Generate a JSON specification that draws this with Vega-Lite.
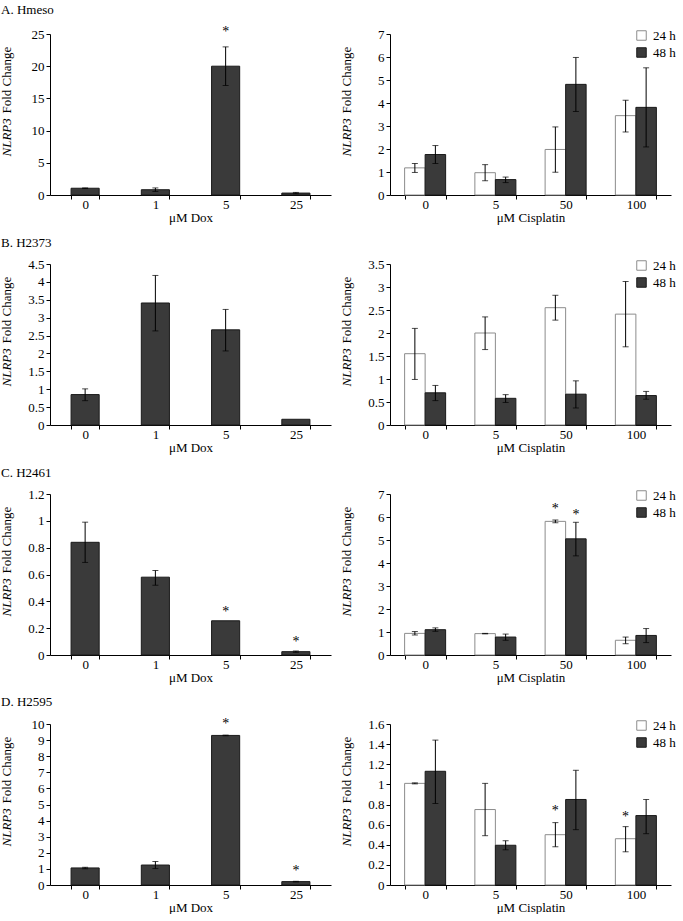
{
"$schema": "https://vega.github.io/schema/vega-lite/v6.json",
"padding": {"left": 0, "top": 4, "right": 0, "bottom": 0},
"background": "#ffffff",
"data": {"values": [
{"p":"A1","c":"0","v":1.05,"lo":1.0,"hi":1.1},
{"p":"A1","c":"1","v":0.82,"lo":0.55,"hi":1.1},
{"p":"A1","c":"5","v":20.0,"lo":17.0,"hi":23.0,"sy":25.6},
{"p":"A1","c":"25","v":0.3,"lo":0.2,"hi":0.4},
{"p":"A2","c":"0","t":"24 h","v":1.18,"lo":0.98,"hi":1.37},
{"p":"A2","c":"0","t":"48 h","v":1.76,"lo":1.37,"hi":2.15},
{"p":"A2","c":"5","t":"24 h","v":0.97,"lo":0.62,"hi":1.32},
{"p":"A2","c":"5","t":"48 h","v":0.67,"lo":0.54,"hi":0.78},
{"p":"A2","c":"50","t":"24 h","v":1.98,"lo":0.99,"hi":2.96},
{"p":"A2","c":"50","t":"48 h","v":4.81,"lo":3.63,"hi":5.98},
{"p":"A2","c":"100","t":"24 h","v":3.45,"lo":2.74,"hi":4.12},
{"p":"A2","c":"100","t":"48 h","v":3.81,"lo":2.09,"hi":5.53},
{"p":"B1","c":"0","v":0.85,"lo":0.68,"hi":1.01},
{"p":"B1","c":"1","v":3.41,"lo":2.63,"hi":4.18},
{"p":"B1","c":"5","v":2.66,"lo":2.07,"hi":3.23},
{"p":"B1","c":"25","v":0.16},
{"p":"B2","c":"0","t":"24 h","v":1.55,"lo":0.99,"hi":2.10},
{"p":"B2","c":"0","t":"48 h","v":0.70,"lo":0.53,"hi":0.86},
{"p":"B2","c":"5","t":"24 h","v":2.00,"lo":1.64,"hi":2.35},
{"p":"B2","c":"5","t":"48 h","v":0.58,"lo":0.49,"hi":0.66},
{"p":"B2","c":"50","t":"24 h","v":2.55,"lo":2.28,"hi":2.82},
{"p":"B2","c":"50","t":"48 h","v":0.67,"lo":0.37,"hi":0.96},
{"p":"B2","c":"100","t":"24 h","v":2.41,"lo":1.70,"hi":3.12},
{"p":"B2","c":"100","t":"48 h","v":0.64,"lo":0.56,"hi":0.73},
{"p":"C1","c":"0","v":0.84,"lo":0.69,"hi":0.99},
{"p":"C1","c":"1","v":0.58,"lo":0.52,"hi":0.63},
{"p":"C1","c":"5","v":0.255,"sy":0.334},
{"p":"C1","c":"25","v":0.025,"lo":0.02,"hi":0.03,"sy":0.11},
{"p":"C2","c":"0","t":"24 h","v":0.94,"lo":0.87,"hi":1.02},
{"p":"C2","c":"0","t":"48 h","v":1.10,"lo":1.03,"hi":1.18},
{"p":"C2","c":"5","t":"24 h","v":0.93,"lo":0.92,"hi":0.94},
{"p":"C2","c":"5","t":"48 h","v":0.78,"lo":0.64,"hi":0.91},
{"p":"C2","c":"50","t":"24 h","v":5.81,"lo":5.75,"hi":5.87,"sy":6.45},
{"p":"C2","c":"50","t":"48 h","v":5.05,"lo":4.31,"hi":5.77,"sy":6.19},
{"p":"C2","c":"100","t":"24 h","v":0.64,"lo":0.49,"hi":0.78},
{"p":"C2","c":"100","t":"48 h","v":0.85,"lo":0.54,"hi":1.15},
{"p":"D1","c":"0","v":1.06,"lo":1.01,"hi":1.10},
{"p":"D1","c":"1","v":1.24,"lo":1.02,"hi":1.46},
{"p":"D1","c":"5","v":9.29,"lo":9.27,"hi":9.31,"sy":10.15},
{"p":"D1","c":"25","v":0.21,"lo":0.19,"hi":0.23,"sy":0.98},
{"p":"D2","c":"0","t":"24 h","v":1.01,"lo":1.005,"hi":1.015},
{"p":"D2","c":"0","t":"48 h","v":1.13,"lo":0.81,"hi":1.44},
{"p":"D2","c":"5","t":"24 h","v":0.75,"lo":0.49,"hi":1.01},
{"p":"D2","c":"5","t":"48 h","v":0.395,"lo":0.35,"hi":0.44},
{"p":"D2","c":"50","t":"24 h","v":0.50,"lo":0.38,"hi":0.62,"sy":0.76},
{"p":"D2","c":"50","t":"48 h","v":0.85,"lo":0.55,"hi":1.14},
{"p":"D2","c":"100","t":"24 h","v":0.46,"lo":0.33,"hi":0.58,"sy":0.70},
{"p":"D2","c":"100","t":"48 h","v":0.69,"lo":0.51,"hi":0.85}
]},
"columns": 2,
"spacing": {"row": 69, "column": 59},
"bounds": "flush",
"resolve": {"scale": {"fill": "independent", "stroke": "independent"}, "legend": {"fill": "independent", "stroke": "independent"}},
"concat": [
 {"title": {"text": "A. Hmeso"}, "width": 281, "height": 161,
  "transform": [{"filter": "datum.p === 'A1'"}],
  "encoding": {"x": {"field": "c", "type": "nominal", "sort": null, "scale": {"paddingInner": 0.6, "paddingOuter": 0.3}, "axis": {"title": "μM Dox"}}},
  "layer": [
   {"mark": {"type": "bar", "fill": "#3a3a3a", "stroke": "#1a1a1a", "strokeWidth": 1},
    "encoding": {"y": {"field": "v", "type": "quantitative", "scale": {"domain": [0, 25], "nice": false}, "axis": {"title": "Fold Change", "values": [0,5,10,15,20,25], "format": ".1~f", "titleX": -50, "titleY": 79, "titleAlign": "left", "titleBaseline": "top", "titleAngle": 270}}}},
   {"mark": {"type": "rule", "color": "#000", "strokeWidth": 1},
    "encoding": {"y": {"field": "lo", "type": "quantitative", "scale": {"domain": [0, 25], "nice": false}, "axis": null}, "y2": {"field": "hi"}}},
   {"mark": {"type": "tick", "color": "#000", "size": 6, "thickness": 1},
    "encoding": {"y": {"field": "lo", "type": "quantitative", "scale": {"domain": [0, 25], "nice": false}, "axis": null}}},
   {"mark": {"type": "tick", "color": "#000", "size": 6, "thickness": 1},
    "encoding": {"y": {"field": "hi", "type": "quantitative", "scale": {"domain": [0, 25], "nice": false}, "axis": {"orient": "left", "title": "NLRP3", "titleFontStyle": "italic", "labels": false, "ticks": false, "domain": false, "titleX": -50, "titleY": 122, "titleAlign": "left", "titleBaseline": "top", "titleAngle": 270}}}},
   {"transform": [{"filter": "isValid(datum.sy)"}], "mark": {"type": "text", "text": "*", "fontSize": 14, "baseline": "middle", "dy": 2, "fill": "#000"},
    "encoding": {"y": {"field": "sy", "type": "quantitative", "scale": {"domain": [0, 25], "nice": false}, "axis": null}}}
  ],
  "resolve": {"axis": {"y": "independent"}}
 },
 {"width": 281, "height": 161,
  "transform": [{"filter": "datum.p === 'A2'"}],
  "encoding": {"x": {"field": "c", "type": "nominal", "sort": null, "scale": {"paddingInner": 0.416, "paddingOuter": 0.208}, "axis": {"title": "μM Cisplatin"}},
               "xOffset": {"field": "t", "type": "nominal", "scale": {"domain": ["24 h", "48 h"], "paddingInner": 0, "paddingOuter": 0}}},
  "layer": [
   {"mark": {"type": "bar", "strokeWidth": 1},
    "encoding": {"y": {"field": "v", "type": "quantitative", "scale": {"domain": [0, 7], "nice": false}, "axis": {"title": "Fold Change", "values": [0,1,2,3,4,5,6,7], "format": ".1~f", "titleX": -50, "titleY": 79, "titleAlign": "left", "titleBaseline": "top", "titleAngle": 270}},
     "fill": {"field": "t", "type": "nominal", "scale": {"domain": ["24 h", "48 h"], "range": ["#ffffff", "#3a3a3a"]}, "legend": {"title": null, "orient": "none", "legendX": 245, "legendY": -5, "symbolType": "square", "symbolSize": 90, "symbolStrokeColor": "#000", "symbolStrokeWidth": 1, "labelFontSize": 13, "labelOffset": 5, "rowPadding": 2, "padding": 0}},
     "stroke": {"field": "t", "type": "nominal", "scale": {"domain": ["24 h", "48 h"], "range": ["#8c8c8c", "#1a1a1a"]}, "legend": null}}},
   {"mark": {"type": "rule", "color": "#000", "strokeWidth": 1},
    "encoding": {"y": {"field": "lo", "type": "quantitative", "scale": {"domain": [0, 7], "nice": false}, "axis": null}, "y2": {"field": "hi"}}},
   {"mark": {"type": "tick", "color": "#000", "size": 6, "thickness": 1},
    "encoding": {"y": {"field": "lo", "type": "quantitative", "scale": {"domain": [0, 7], "nice": false}, "axis": null}}},
   {"mark": {"type": "tick", "color": "#000", "size": 6, "thickness": 1},
    "encoding": {"y": {"field": "hi", "type": "quantitative", "scale": {"domain": [0, 7], "nice": false}, "axis": {"orient": "left", "title": "NLRP3", "titleFontStyle": "italic", "labels": false, "ticks": false, "domain": false, "titleX": -50, "titleY": 122, "titleAlign": "left", "titleBaseline": "top", "titleAngle": 270}}}},
   {"transform": [{"filter": "isValid(datum.sy)"}], "mark": {"type": "text", "text": "*", "fontSize": 14, "baseline": "middle", "dy": 2, "fill": "#000"},
    "encoding": {"y": {"field": "sy", "type": "quantitative", "scale": {"domain": [0, 7], "nice": false}, "axis": null}}}
  ],
  "resolve": {"axis": {"y": "independent"}}
 },
 {"title": {"text": "B. H2373"}, "width": 281, "height": 161,
  "transform": [{"filter": "datum.p === 'B1'"}],
  "encoding": {"x": {"field": "c", "type": "nominal", "sort": null, "scale": {"paddingInner": 0.6, "paddingOuter": 0.3}, "axis": {"title": "μM Dox"}}},
  "layer": [
   {"mark": {"type": "bar", "fill": "#3a3a3a", "stroke": "#1a1a1a", "strokeWidth": 1},
    "encoding": {"y": {"field": "v", "type": "quantitative", "scale": {"domain": [0, 4.5], "nice": false}, "axis": {"title": "Fold Change", "values": [0,0.5,1,1.5,2,2.5,3,3.5,4,4.5], "format": ".1~f", "titleX": -50, "titleY": 79, "titleAlign": "left", "titleBaseline": "top", "titleAngle": 270}}}},
   {"mark": {"type": "rule", "color": "#000", "strokeWidth": 1},
    "encoding": {"y": {"field": "lo", "type": "quantitative", "scale": {"domain": [0, 4.5], "nice": false}, "axis": null}, "y2": {"field": "hi"}}},
   {"mark": {"type": "tick", "color": "#000", "size": 6, "thickness": 1},
    "encoding": {"y": {"field": "lo", "type": "quantitative", "scale": {"domain": [0, 4.5], "nice": false}, "axis": null}}},
   {"mark": {"type": "tick", "color": "#000", "size": 6, "thickness": 1},
    "encoding": {"y": {"field": "hi", "type": "quantitative", "scale": {"domain": [0, 4.5], "nice": false}, "axis": {"orient": "left", "title": "NLRP3", "titleFontStyle": "italic", "labels": false, "ticks": false, "domain": false, "titleX": -50, "titleY": 122, "titleAlign": "left", "titleBaseline": "top", "titleAngle": 270}}}}
  ],
  "resolve": {"axis": {"y": "independent"}}
 },
 {"width": 281, "height": 161,
  "transform": [{"filter": "datum.p === 'B2'"}],
  "encoding": {"x": {"field": "c", "type": "nominal", "sort": null, "scale": {"paddingInner": 0.416, "paddingOuter": 0.208}, "axis": {"title": "μM Cisplatin"}},
               "xOffset": {"field": "t", "type": "nominal", "scale": {"domain": ["24 h", "48 h"], "paddingInner": 0, "paddingOuter": 0}}},
  "layer": [
   {"mark": {"type": "bar", "strokeWidth": 1},
    "encoding": {"y": {"field": "v", "type": "quantitative", "scale": {"domain": [0, 3.5], "nice": false}, "axis": {"title": "Fold Change", "values": [0,0.5,1,1.5,2,2.5,3,3.5], "format": ".1~f", "titleX": -50, "titleY": 79, "titleAlign": "left", "titleBaseline": "top", "titleAngle": 270}},
     "fill": {"field": "t", "type": "nominal", "scale": {"domain": ["24 h", "48 h"], "range": ["#ffffff", "#3a3a3a"]}, "legend": {"title": null, "orient": "none", "legendX": 245, "legendY": -5, "symbolType": "square", "symbolSize": 90, "symbolStrokeColor": "#000", "symbolStrokeWidth": 1, "labelFontSize": 13, "labelOffset": 5, "rowPadding": 2, "padding": 0}},
     "stroke": {"field": "t", "type": "nominal", "scale": {"domain": ["24 h", "48 h"], "range": ["#8c8c8c", "#1a1a1a"]}, "legend": null}}},
   {"mark": {"type": "rule", "color": "#000", "strokeWidth": 1},
    "encoding": {"y": {"field": "lo", "type": "quantitative", "scale": {"domain": [0, 3.5], "nice": false}, "axis": null}, "y2": {"field": "hi"}}},
   {"mark": {"type": "tick", "color": "#000", "size": 6, "thickness": 1},
    "encoding": {"y": {"field": "lo", "type": "quantitative", "scale": {"domain": [0, 3.5], "nice": false}, "axis": null}}},
   {"mark": {"type": "tick", "color": "#000", "size": 6, "thickness": 1},
    "encoding": {"y": {"field": "hi", "type": "quantitative", "scale": {"domain": [0, 3.5], "nice": false}, "axis": {"orient": "left", "title": "NLRP3", "titleFontStyle": "italic", "labels": false, "ticks": false, "domain": false, "titleX": -50, "titleY": 122, "titleAlign": "left", "titleBaseline": "top", "titleAngle": 270}}}}
  ],
  "resolve": {"axis": {"y": "independent"}}
 },
 {"title": {"text": "C. H2461"}, "width": 281, "height": 161,
  "transform": [{"filter": "datum.p === 'C1'"}],
  "encoding": {"x": {"field": "c", "type": "nominal", "sort": null, "scale": {"paddingInner": 0.6, "paddingOuter": 0.3}, "axis": {"title": "μM Dox"}}},
  "layer": [
   {"mark": {"type": "bar", "fill": "#3a3a3a", "stroke": "#1a1a1a", "strokeWidth": 1},
    "encoding": {"y": {"field": "v", "type": "quantitative", "scale": {"domain": [0, 1.2], "nice": false}, "axis": {"title": "Fold Change", "values": [0,0.2,0.4,0.6,0.8,1,1.2], "format": ".1~f", "titleX": -50, "titleY": 79, "titleAlign": "left", "titleBaseline": "top", "titleAngle": 270}}}},
   {"mark": {"type": "rule", "color": "#000", "strokeWidth": 1},
    "encoding": {"y": {"field": "lo", "type": "quantitative", "scale": {"domain": [0, 1.2], "nice": false}, "axis": null}, "y2": {"field": "hi"}}},
   {"mark": {"type": "tick", "color": "#000", "size": 6, "thickness": 1},
    "encoding": {"y": {"field": "lo", "type": "quantitative", "scale": {"domain": [0, 1.2], "nice": false}, "axis": null}}},
   {"mark": {"type": "tick", "color": "#000", "size": 6, "thickness": 1},
    "encoding": {"y": {"field": "hi", "type": "quantitative", "scale": {"domain": [0, 1.2], "nice": false}, "axis": {"orient": "left", "title": "NLRP3", "titleFontStyle": "italic", "labels": false, "ticks": false, "domain": false, "titleX": -50, "titleY": 122, "titleAlign": "left", "titleBaseline": "top", "titleAngle": 270}}}},
   {"transform": [{"filter": "isValid(datum.sy)"}], "mark": {"type": "text", "text": "*", "fontSize": 14, "baseline": "middle", "dy": 2, "fill": "#000"},
    "encoding": {"y": {"field": "sy", "type": "quantitative", "scale": {"domain": [0, 1.2], "nice": false}, "axis": null}}}
  ],
  "resolve": {"axis": {"y": "independent"}}
 },
 {"width": 281, "height": 161,
  "transform": [{"filter": "datum.p === 'C2'"}],
  "encoding": {"x": {"field": "c", "type": "nominal", "sort": null, "scale": {"paddingInner": 0.416, "paddingOuter": 0.208}, "axis": {"title": "μM Cisplatin"}},
               "xOffset": {"field": "t", "type": "nominal", "scale": {"domain": ["24 h", "48 h"], "paddingInner": 0, "paddingOuter": 0}}},
  "layer": [
   {"mark": {"type": "bar", "strokeWidth": 1},
    "encoding": {"y": {"field": "v", "type": "quantitative", "scale": {"domain": [0, 7], "nice": false}, "axis": {"title": "Fold Change", "values": [0,1,2,3,4,5,6,7], "format": ".1~f", "titleX": -50, "titleY": 79, "titleAlign": "left", "titleBaseline": "top", "titleAngle": 270}},
     "fill": {"field": "t", "type": "nominal", "scale": {"domain": ["24 h", "48 h"], "range": ["#ffffff", "#3a3a3a"]}, "legend": {"title": null, "orient": "none", "legendX": 245, "legendY": -5, "symbolType": "square", "symbolSize": 90, "symbolStrokeColor": "#000", "symbolStrokeWidth": 1, "labelFontSize": 13, "labelOffset": 5, "rowPadding": 2, "padding": 0}},
     "stroke": {"field": "t", "type": "nominal", "scale": {"domain": ["24 h", "48 h"], "range": ["#8c8c8c", "#1a1a1a"]}, "legend": null}}},
   {"mark": {"type": "rule", "color": "#000", "strokeWidth": 1},
    "encoding": {"y": {"field": "lo", "type": "quantitative", "scale": {"domain": [0, 7], "nice": false}, "axis": null}, "y2": {"field": "hi"}}},
   {"mark": {"type": "tick", "color": "#000", "size": 6, "thickness": 1},
    "encoding": {"y": {"field": "lo", "type": "quantitative", "scale": {"domain": [0, 7], "nice": false}, "axis": null}}},
   {"mark": {"type": "tick", "color": "#000", "size": 6, "thickness": 1},
    "encoding": {"y": {"field": "hi", "type": "quantitative", "scale": {"domain": [0, 7], "nice": false}, "axis": {"orient": "left", "title": "NLRP3", "titleFontStyle": "italic", "labels": false, "ticks": false, "domain": false, "titleX": -50, "titleY": 122, "titleAlign": "left", "titleBaseline": "top", "titleAngle": 270}}}},
   {"transform": [{"filter": "isValid(datum.sy)"}], "mark": {"type": "text", "text": "*", "fontSize": 14, "baseline": "middle", "dy": 2, "fill": "#000"},
    "encoding": {"y": {"field": "sy", "type": "quantitative", "scale": {"domain": [0, 7], "nice": false}, "axis": null}}}
  ],
  "resolve": {"axis": {"y": "independent"}}
 },
 {"title": {"text": "D. H2595"}, "width": 281, "height": 161,
  "transform": [{"filter": "datum.p === 'D1'"}],
  "encoding": {"x": {"field": "c", "type": "nominal", "sort": null, "scale": {"paddingInner": 0.6, "paddingOuter": 0.3}, "axis": {"title": "μM Dox"}}},
  "layer": [
   {"mark": {"type": "bar", "fill": "#3a3a3a", "stroke": "#1a1a1a", "strokeWidth": 1},
    "encoding": {"y": {"field": "v", "type": "quantitative", "scale": {"domain": [0, 10], "nice": false}, "axis": {"title": "Fold Change", "values": [0,1,2,3,4,5,6,7,8,9,10], "format": ".1~f", "titleX": -50, "titleY": 79, "titleAlign": "left", "titleBaseline": "top", "titleAngle": 270}}}},
   {"mark": {"type": "rule", "color": "#000", "strokeWidth": 1},
    "encoding": {"y": {"field": "lo", "type": "quantitative", "scale": {"domain": [0, 10], "nice": false}, "axis": null}, "y2": {"field": "hi"}}},
   {"mark": {"type": "tick", "color": "#000", "size": 6, "thickness": 1},
    "encoding": {"y": {"field": "lo", "type": "quantitative", "scale": {"domain": [0, 10], "nice": false}, "axis": null}}},
   {"mark": {"type": "tick", "color": "#000", "size": 6, "thickness": 1},
    "encoding": {"y": {"field": "hi", "type": "quantitative", "scale": {"domain": [0, 10], "nice": false}, "axis": {"orient": "left", "title": "NLRP3", "titleFontStyle": "italic", "labels": false, "ticks": false, "domain": false, "titleX": -50, "titleY": 122, "titleAlign": "left", "titleBaseline": "top", "titleAngle": 270}}}},
   {"transform": [{"filter": "isValid(datum.sy)"}], "mark": {"type": "text", "text": "*", "fontSize": 14, "baseline": "middle", "dy": 2, "fill": "#000"},
    "encoding": {"y": {"field": "sy", "type": "quantitative", "scale": {"domain": [0, 10], "nice": false}, "axis": null}}}
  ],
  "resolve": {"axis": {"y": "independent"}}
 },
 {"width": 281, "height": 161,
  "transform": [{"filter": "datum.p === 'D2'"}],
  "encoding": {"x": {"field": "c", "type": "nominal", "sort": null, "scale": {"paddingInner": 0.416, "paddingOuter": 0.208}, "axis": {"title": "μM Cisplatin"}},
               "xOffset": {"field": "t", "type": "nominal", "scale": {"domain": ["24 h", "48 h"], "paddingInner": 0, "paddingOuter": 0}}},
  "layer": [
   {"mark": {"type": "bar", "strokeWidth": 1},
    "encoding": {"y": {"field": "v", "type": "quantitative", "scale": {"domain": [0, 1.6], "nice": false}, "axis": {"title": "Fold Change", "values": [0,0.2,0.4,0.6,0.8,1,1.2,1.4,1.6], "format": ".1~f", "titleX": -50, "titleY": 79, "titleAlign": "left", "titleBaseline": "top", "titleAngle": 270}},
     "fill": {"field": "t", "type": "nominal", "scale": {"domain": ["24 h", "48 h"], "range": ["#ffffff", "#3a3a3a"]}, "legend": {"title": null, "orient": "none", "legendX": 245, "legendY": -5, "symbolType": "square", "symbolSize": 90, "symbolStrokeColor": "#000", "symbolStrokeWidth": 1, "labelFontSize": 13, "labelOffset": 5, "rowPadding": 2, "padding": 0}},
     "stroke": {"field": "t", "type": "nominal", "scale": {"domain": ["24 h", "48 h"], "range": ["#8c8c8c", "#1a1a1a"]}, "legend": null}}},
   {"mark": {"type": "rule", "color": "#000", "strokeWidth": 1},
    "encoding": {"y": {"field": "lo", "type": "quantitative", "scale": {"domain": [0, 1.6], "nice": false}, "axis": null}, "y2": {"field": "hi"}}},
   {"mark": {"type": "tick", "color": "#000", "size": 6, "thickness": 1},
    "encoding": {"y": {"field": "lo", "type": "quantitative", "scale": {"domain": [0, 1.6], "nice": false}, "axis": null}}},
   {"mark": {"type": "tick", "color": "#000", "size": 6, "thickness": 1},
    "encoding": {"y": {"field": "hi", "type": "quantitative", "scale": {"domain": [0, 1.6], "nice": false}, "axis": {"orient": "left", "title": "NLRP3", "titleFontStyle": "italic", "labels": false, "ticks": false, "domain": false, "titleX": -50, "titleY": 122, "titleAlign": "left", "titleBaseline": "top", "titleAngle": 270}}}},
   {"transform": [{"filter": "isValid(datum.sy)"}], "mark": {"type": "text", "text": "*", "fontSize": 14, "baseline": "middle", "dy": 2, "fill": "#000"},
    "encoding": {"y": {"field": "sy", "type": "quantitative", "scale": {"domain": [0, 1.6], "nice": false}, "axis": null}}}
  ],
  "resolve": {"axis": {"y": "independent"}}
 }
],
"config": {
 "font": "Liberation Serif",
 "view": {"stroke": null},
 "axis": {"labelFont": "Liberation Serif", "labelFontSize": 13, "labelColor": "#000", "titleFont": "Liberation Serif", "titleFontSize": 13, "titleFontWeight": "normal", "titleColor": "#000", "domainColor": "#000", "tickColor": "#000", "grid": false},
 "axisX": {"tickBand": "extent", "tickSize": 4, "labelPadding": -1, "titlePadding": 0, "labelAngle": 0},
 "axisY": {"tickSize": 4, "labelPadding": 2},
 "legend": {"labelFont": "Liberation Serif", "labelColor": "#000"},
 "title": {"font": "Liberation Serif", "fontSize": 13, "fontWeight": "normal", "color": "#000", "anchor": "start", "frame": "group", "dx": -49, "offset": 8}
}
}
